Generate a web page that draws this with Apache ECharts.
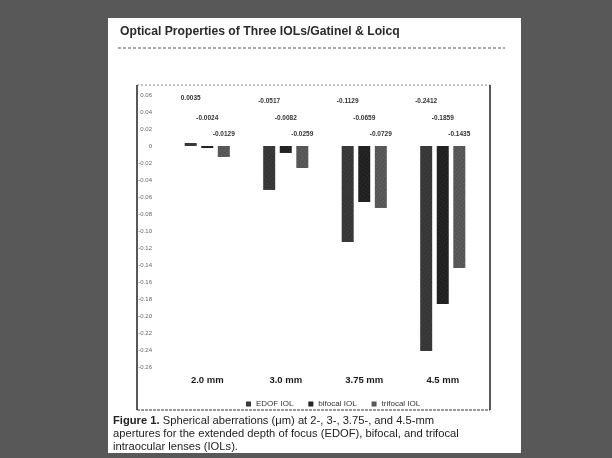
<!DOCTYPE html>
<html>
<head>
<meta charset="utf-8">
<script src="https://cdn.jsdelivr.net/npm/echarts@6/dist/echarts.min.js"></script>
<style>
html,body{margin:0;padding:0;background:#585858;}
#c{width:612px;height:458px;}
</style>
</head>
<body>
<div id="c"></div>
<script>
var categories = ['2.0 mm', '3.0 mm', '3.75 mm', '4.5 mm'];
var seriesNames = ['EDOF IOL', 'bifocal IOL', 'trifocal IOL'];
var edofValues = [0.0035, -0.0517, -0.1129, -0.2412];
var bifocalValues = [-0.0024, -0.0082, -0.0659, -0.1859];
var trifocalValues = [-0.0129, -0.0259, -0.0729, -0.1435];
var yMin = -0.26, yMax = 0.06, yStep = 0.02;

var chart = echarts.init(document.getElementById('c'), null, {renderer: 'canvas'});
var colors = ['#363636', '#202020', '#555555'];
var labelRise = [-45, -28, -12];
var allValues = [edofValues, bifocalValues, trifocalValues];

var series = seriesNames.map(function (name, i) {
  return {
    name: name,
    type: 'bar',
    data: allValues[i],
    barWidth: 12,
    barGap: '38%',
    itemStyle: {
      color: colors[i],
      decal: {
        symbol: 'rect',
        symbolSize: 0.6,
        color: 'rgba(255,255,255,' + (i === 2 ? 0.45 : 0.3) + ')',
        dashArrayX: [1, 2],
        dashArrayY: [1, 2],
        rotation: 0.6
      }
    },
    label: {
      show: true,
      position: ['50%', labelRise[i]],
      align: 'center',
      verticalAlign: 'middle',
      fontSize: 6.5,
      fontFamily: 'Liberation Sans',
      fontWeight: 'bold',
      color: '#333',
      formatter: function (p) { return p.value.toFixed(4); }
    }
  };
});

var option = {
  animation: false,
  backgroundColor: '#585858',
  grid: {left: 168, right: 612 - 482, top: 95, bottom: 458 - 367, containLabel: false},
  xAxis: {
    type: 'category',
    data: categories,
    axisLine: {show: false, onZero: false},
    axisTick: {show: false},
    axisLabel: {margin: 8, fontSize: 9.5, fontWeight: 'bold', color: '#1a1a1a', fontFamily: 'Liberation Sans'}
  },
  yAxis: {
    type: 'value',
    min: yMin, max: yMax, interval: yStep,
    axisLine: {show: false},
    axisTick: {show: false},
    splitLine: {show: false},
    axisLabel: {margin: 16, fontSize: 6, color: '#666', fontFamily: 'Liberation Sans',
      formatter: function (v) { return Math.abs(v) < 1e-9 ? '0' : v.toFixed(2); }}
  },
  legend: {
    data: seriesNames,
    top: 395,
    left: 241,
    itemWidth: 5,
    itemHeight: 5,
    itemGap: 15,
    icon: 'rect',
    textStyle: {fontSize: 8, color: '#333', fontFamily: 'Liberation Sans'}
  },
  graphic: [
    {type: 'rect', z: -10, shape: {x: 108, y: 18, width: 413, height: 435}, style: {fill: '#ffffff'}},
    {type: 'text', left: 120, top: 26, style: {text: 'Optical Properties of Three IOLs/Gatinel & Loicq', fontSize: 12.2, fontWeight: 'bold', fontFamily: 'Liberation Sans', fill: '#2a2a2a'}},
    {type: 'line', shape: {x1: 118, y1: 48, x2: 505, y2: 48}, style: {stroke: '#555', lineWidth: 1, lineDash: [3, 2]}},
    {type: 'line', shape: {x1: 137, y1: 85, x2: 490, y2: 85}, style: {stroke: '#888', lineWidth: 1, lineDash: [2, 2]}},
    {type: 'line', shape: {x1: 137, y1: 85, x2: 137, y2: 410}, style: {stroke: '#222', lineWidth: 1.5}},
    {type: 'line', shape: {x1: 490, y1: 85, x2: 490, y2: 410}, style: {stroke: '#222', lineWidth: 1.5}},
    {type: 'line', shape: {x1: 137, y1: 410, x2: 490, y2: 410}, style: {stroke: '#333', lineWidth: 1, lineDash: [3, 1]}},
    {type: 'text', left: 113, top: 414, style: {
      text: '{b|Figure 1.} Spherical aberrations (μm) at 2-, 3-, 3.75-, and 4.5-mm\napertures for the extended depth of focus (EDOF), bifocal, and trifocal\nintraocular lenses (IOLs).',
      rich: {b: {fontWeight: 'bold', fontSize: 11.2, fontFamily: 'Liberation Sans', fill: '#222'}},
      fontSize: 11.2, lineHeight: 13, fontFamily: 'Liberation Sans', fill: '#222'}}
  ],
  series: series
};
chart.setOption(option);
</script>
</body>
</html>
